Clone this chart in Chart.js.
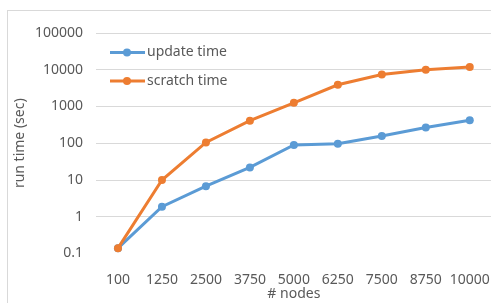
<!DOCTYPE html>
<html>
<head>
<meta charset="utf-8">
<script src="https://cdn.jsdelivr.net/npm/chart.js@4"></script>
<style>
  html, body { margin: 0; padding: 0; background: #fff; overflow: hidden; }
  body { width: 491px; height: 303px; position: relative; }
  #frame { position: absolute; left: 7px; top: 10px; width: 600px; height: 400px; border: 1px solid #d9d9d9; }
  #chart { position: absolute; left: 0; top: 0; }
</style>
</head>
<body>
<div id="frame"></div>
<canvas id="chart" width="500" height="303"></canvas>
<script>
const nodes = ["100", "1250", "2500", "3750", "5000", "6250", "7500", "8750", "10000"];
const updateTime = [0.14, 1.87, 6.8, 22, 90, 97, 158, 267, 420];
const scratchTime = [0.14, 10, 105, 410, 1260, 3900, 7450, 10000, 11800];
const yTicks = [0.1, 1, 10, 100, 1000, 10000, 100000];

const textColor = "#595959";
const fontFamily = "'Noto Sans', sans-serif";

// legend drawn inside the plot, like the excel one
const innerLegend = {
  id: "innerLegend",
  afterDraw: function (chart) {
    var ctx = chart.ctx;
    var rows = [52.5, 81];
    ctx.save();
    chart.data.datasets.forEach(function (ds, i) {
      var y = rows[i];
      ctx.strokeStyle = ds.borderColor;
      ctx.lineWidth = 3;
      ctx.beginPath();
      ctx.moveTo(110, y);
      ctx.lineTo(145, y);
      ctx.stroke();
      ctx.fillStyle = ds.borderColor;
      ctx.beginPath();
      ctx.arc(127, y, 4, 0, Math.PI * 2);
      ctx.fill();
      ctx.fillStyle = textColor;
      ctx.font = "14px " + fontFamily;
      ctx.textBaseline = "middle";
      ctx.fillText(ds.label, 147, y);
    });
    ctx.restore();
  }
};

var ctx = document.getElementById("chart").getContext("2d");
var myChart = new Chart(ctx, {
  type: "line",
  data: {
    labels: nodes,
    datasets: [
      {
        label: "update time",
        data: updateTime,
        borderColor: "#5b9bd5",
        backgroundColor: "#5b9bd5",
        borderWidth: 3,
        pointRadius: 4,
        pointBorderWidth: 0,
        order: 1,
      },
      {
        label: "scratch time",
        data: scratchTime,
        borderColor: "#ed7d31",
        backgroundColor: "#ed7d31",
        borderWidth: 3,
        pointRadius: 4,
        pointBorderWidth: 0,
        order: 0,
      },
    ],
  },
  options: {
    responsive: false,
    animation: false,
    devicePixelRatio: 1,
    layout: { padding: { top: 33, right: 4, left: 0, bottom: 0 } },
    plugins: {
      legend: { display: false },
      tooltip: { enabled: false },
    },
    scales: {
      x: {
        type: "category",
        offset: true,
        grid: { display: false },
        border: { display: false },
        ticks: {
          color: textColor,
          font: { family: fontFamily, size: 14 },
          padding: 10,
          maxRotation: 0,
          autoSkip: false,
        },
        title: {
          display: true,
          text: "# nodes",
          color: textColor,
          font: { family: fontFamily, size: 14 },
          padding: { top: 0, bottom: 1 },
        },
        afterFit: function (scale) { scale.height = 49.5; },
      },
      y: {
        type: "logarithmic",
        min: 0.1,
        max: 100000,
        border: { display: false },
        grid: {
          drawTicks: false,
          color: function (c) { return c.tick && c.tick.value === 0.1 ? "rgba(0,0,0,0)" : "#d9d9d9"; },
        },
        afterBuildTicks: function (scale) {
          scale.ticks = yTicks.map(function (v) { return { value: v }; });
        },
        ticks: {
          color: textColor,
          font: { family: fontFamily, size: 14 },
          padding: 13,
          callback: function (value) { return String(value); },
        },
        title: {
          display: true,
          text: "run time (sec)",
          color: textColor,
          font: { family: fontFamily, size: 14 },
          padding: { top: 12, bottom: 0 },
        },
        afterFit: function (scale) { scale.width = 96; },
      },
    },
  },
  plugins: [innerLegend],
});
</script>
</body>
</html>
